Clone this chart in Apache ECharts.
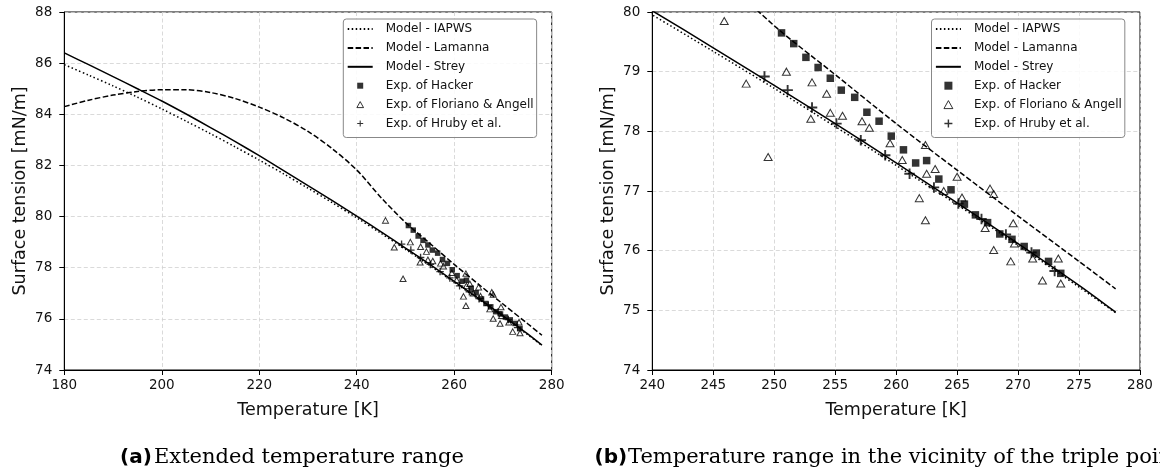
<!DOCTYPE html>
<html><head><meta charset="utf-8">
<script src="https://cdn.jsdelivr.net/npm/echarts@6/dist/echarts.min.js"></script>
<style>html,body{margin:0;padding:0;background:#fff}#c{width:1160px;height:475px}</style>
</head><body><div id="c"></div>
<script>
// ---- data ----
const modelT   = [180,185,190,195,200,205,210,215,220,225,230,235,240,245,250,255,260,265,270,275,278];
const iapwsS   = [85.94,85.53,85.11,84.67,84.21,83.73,83.24,82.73,82.21,81.67,81.11,80.54,79.95,79.34,78.72,78.08,77.43,76.77,76.09,75.39,74.96];
const lamannaS = [84.30,84.55,84.75,84.89,84.96,84.96,84.85,84.62,84.28,83.86,83.33,82.65,81.82,80.74,79.77,78.95,78.13,77.35,76.58,75.82,75.36];
const streyS   = [86.40,85.94,85.47,85.00,84.52,84.01,83.48,82.94,82.38,81.80,81.21,80.62,80.02,79.40,78.77,78.13,77.47,76.80,76.12,75.42,74.97];

const hackerT = [250.6,251.6,252.6,253.6,254.6,255.5,256.6,257.6,258.6,259.6,260.6,261.6,262.5,263.5,264.5,265.6,266.5,267.5,268.5,269.5,270.5,271.5,272.5,273.5];
const hackerS = [79.65,79.47,79.24,79.07,78.89,78.69,78.57,78.32,78.17,77.92,77.69,77.47,77.51,77.20,77.02,76.78,76.60,76.47,76.28,76.19,76.07,75.96,75.82,75.62];

const florianoT = [245.9,247.7,249.5,251.0,253.1,253.0,254.3,254.6,255.6,257.2,257.8,259.5,260.5,262.4,262.5,263.2,263.9,261.9,262.4,265.0,265.4,267.7,268.0,267.3,268.0,269.6,269.7,269.4,271.2,272.0,273.3,273.5];
const florianoS = [79.85,78.80,77.57,79.00,78.82,78.21,78.63,78.31,78.26,78.17,78.06,77.80,77.52,77.77,77.29,77.37,77.00,76.88,76.51,77.24,76.89,77.04,76.95,76.38,76.01,76.46,76.12,75.82,75.87,75.50,75.87,75.45];

const hrubyT = [249.2,251.1,253.1,255.1,257.1,259.1,261.1,263.1,265.1,267.0,269.0,271.1,273.0];
const hrubyS = [78.92,78.69,78.40,78.13,77.85,77.60,77.29,77.06,76.79,76.53,76.27,75.97,75.66];

const seriesNames = ['Model - IAPWS','Model - Lamanna','Model - Strey','Exp. of Hacker','Exp. of Floriano & Angell','Exp. of Hruby et al.'];
const xTitle = 'Temperature [K]';
const yTitle = 'Surface tension [mN/m]';
const captionA = ['(a)', 'Extended temperature range'];
const captionB = ['(b)', 'Temperature range in the vicinity of the triple poin'];

// ---- build ----
const zip = (a, b) => a.map((v, i) => [v, b[i]]);
const plusPath = 'path://M0,4.1H10V5.9H0Z M4.1,0H5.9V10H4.1Z';
const FONT = 'DejaVu Sans';

function xAxis(idx, min, max, interval) {
  return {
    type: 'value', gridIndex: idx, min, max, interval,
    name: xTitle, nameLocation: 'middle', nameGap: 31,
    nameTextStyle: { fontFamily: FONT, fontSize: 17.5, color: '#111' },
    axisLine: { show: true, onZero: false, lineStyle: { color: '#000', width: 1 } },
    axisTick: { show: true, length: 5, lineStyle: { color: '#000', width: 1 } },
    axisLabel: { margin: 8, fontFamily: FONT, fontSize: 13.5, color: '#111' },
    splitLine: { show: true, lineStyle: { color: '#d0d0d0', type: [4, 2.5], width: 0.8 } }
  };
}
function yAxis(idx, min, max, interval) {
  return {
    type: 'value', gridIndex: idx, min, max, interval,
    name: yTitle, nameLocation: 'middle', nameGap: 35, nameRotate: 90,
    nameTextStyle: { fontFamily: FONT, fontSize: 17.5, color: '#111' },
    axisLine: { show: true, onZero: false, lineStyle: { color: '#000', width: 1 } },
    axisTick: { show: true, length: 5, lineStyle: { color: '#000', width: 1 } },
    axisLabel: { margin: 12, fontFamily: FONT, fontSize: 13.5, color: '#111' },
    splitLine: { show: true, lineStyle: { color: '#d0d0d0', type: [4, 2.5], width: 0.8 } }
  };
}
function panelSeries(idx, sq, tri, plus) {
  const common = { xAxisIndex: idx, yAxisIndex: idx, silent: true, animation: false };
  return [
    Object.assign({ type: 'line', name: seriesNames[0], data: zip(modelT, iapwsS), symbol: 'none', smooth: 0.3,
      itemStyle: { color: '#000' }, lineStyle: { color: '#000', width: 1.5, type: [1.5, 2.5] }, z: 3 }, common),
    Object.assign({ type: 'line', name: seriesNames[1], data: zip(modelT, lamannaS), symbol: 'none', smooth: 0.3,
      itemStyle: { color: '#000' }, lineStyle: { color: '#000', width: 1.5, type: [5.5, 2.4] }, z: 3 }, common),
    Object.assign({ type: 'line', name: seriesNames[2], data: zip(modelT, streyS), symbol: 'none', smooth: 0.3,
      itemStyle: { color: '#000' }, lineStyle: { color: '#000', width: 1.5 }, z: 3 }, common),
    Object.assign({ type: 'scatter', name: seriesNames[3], data: zip(hackerT, hackerS), symbol: 'rect', symbolSize: sq,
      itemStyle: { color: '#000' }, z: 4 }, common),
    Object.assign({ type: 'scatter', name: seriesNames[4], data: zip(florianoT, florianoS), symbol: 'triangle', symbolSize: tri,
      itemStyle: { color: 'rgba(0,0,0,0)', borderColor: '#000', borderWidth: 1 }, z: 5 }, common),
    Object.assign({ type: 'scatter', name: seriesNames[5], data: zip(hrubyT, hrubyS), symbol: plusPath, symbolSize: plus,
      itemStyle: { color: '#000' }, z: 6 }, common)
  ];
}
function legendData() {
  const hide = { color: 'rgba(0,0,0,0)', borderWidth: 0, opacity: 0 };
  return [
    { name: seriesNames[0], itemStyle: hide },
    { name: seriesNames[1], itemStyle: hide },
    { name: seriesNames[2], itemStyle: hide },
    { name: seriesNames[3], icon: 'path://M0,0H10V10H0Z', itemStyle: { color: '#000' } },
    { name: seriesNames[4], icon: 'path://M5,0L10,9H0Z', itemStyle: { color: 'rgba(0,0,0,0)', borderColor: '#000', borderWidth: 1 } },
    { name: seriesNames[5], icon: plusPath, itemStyle: { color: '#000' } }
  ];
}
function legend(left, ih) {
  return {
    orient: 'vertical', left, top: 19, itemWidth: 25, itemHeight: ih, itemGap: 4.9,
    padding: [3, 3, 7, 3.4], backgroundColor: 'rgba(255,255,255,0.85)', borderColor: '#888',
    borderWidth: 1, borderRadius: 3, selectedMode: false, z: 10,
    lineStyle: { opacity: 1 },
    textStyle: { fontFamily: FONT, fontSize: 12, color: '#111', lineHeight: 14, padding: [0, 0, 0, 8] },
    data: legendData()
  };
}
function caption(x1, x2, parts) {
  return [
    { type: 'text', style: { x: x1, y: 458, text: parts[0], fontFamily: FONT, fontWeight: 'bold', fontSize: 20, fill: '#000', align: 'left', verticalAlign: 'middle' } },
    { type: 'text', style: { x: x2, y: 458, text: parts[1], fontFamily: 'DejaVu Serif', fontSize: 21, fill: '#000', align: 'left', verticalAlign: 'middle' } }
  ];
}

const chart = echarts.init(document.getElementById('c'), null, { renderer: 'canvas' });
chart.setOption({
  animation: false,
  backgroundColor: '#fff',
  grid: [
    { left: 64.3, right: 608.3, top: 12, bottom: 105, show: true, borderColor: '#000', borderWidth: 1, backgroundColor: 'transparent' },
    { left: 652.3, right: 20, top: 12, bottom: 105, show: true, borderColor: '#000', borderWidth: 1, backgroundColor: 'transparent' }
  ],
  xAxis: [xAxis(0, 180, 280, 20), xAxis(1, 240, 280, 5)],
  yAxis: [yAxis(0, 74, 88, 2), yAxis(1, 74, 80, 1)],
  legend: [legend(343.3, 6), legend(931.5, 8)],
  series: [].concat(panelSeries(0, 5.5, [6, 5.5], 7.5), panelSeries(1, 7.5, [8, 7], 10.5)),
  graphic: [].concat(caption(120, 154, captionA), caption(594.5, 628, captionB))
});
</script></body></html>
